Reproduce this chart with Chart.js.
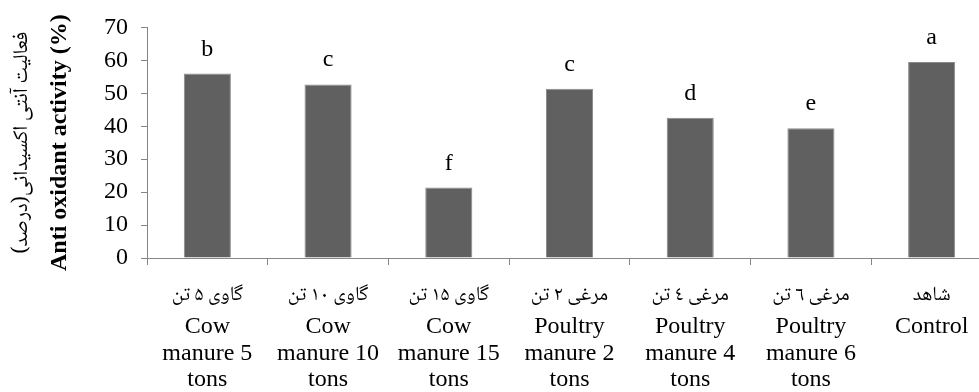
<!DOCTYPE html>
<html>
<head>
<meta charset="utf-8">
<script src="https://cdn.jsdelivr.net/npm/chart.js@4.4.1/dist/chart.umd.min.js"></script>
<style>
	body { margin: 0; overflow: hidden; background: #fff; }
	.wrap { width: 1000px; height: 392px; }
</style>
</head>
<body>
<div class="wrap"><canvas id="chart" width="1000" height="392"></canvas></div>
<script>
const categoriesFa = ['گاوی ۵ تن', 'گاوی ۱۰ تن', 'گاوی ۱۵ تن', 'مرغی ۲ تن', 'مرغی ٤ تن', 'مرغی ٦ تن', 'شاهد'];
const categoriesEn = [
	['Cow', 'manure 5', 'tons'],
	['Cow', 'manure 10', 'tons'],
	['Cow', 'manure 15', 'tons'],
	['Poultry', 'manure 2', 'tons'],
	['Poultry', 'manure 4', 'tons'],
	['Poultry', 'manure 6', 'tons'],
	['Control'],
];
const activity = [56, 52.7, 21.4, 51.4, 42.6, 39.4, 59.5];
const groupLetters = ['b', 'c', 'f', 'c', 'd', 'e', 'a'];
const yMin = 0;
const yMax = 70;
const yStep = 10;
const titleFa = 'فعالیت آنتی اکسیدانی(درصد)';
const titleEn = 'Anti oxidant activity (%)';

const serif = '"Liberation Serif", "Times New Roman", serif';
const persian = '"Noto Naskh Arabic", "Noto Sans Arabic", "DejaVu Sans", sans-serif';
const axisGray = '#868686';

// letters over bars, persian names under the axis, two-font y title
const extraText = {
	id: 'extraText',
	afterDraw(chart) {
		const ctx = chart.ctx;
		const xs = chart.scales.x;
		const ys = chart.scales.y;
		ctx.save();
		ctx.fillStyle = '#000';
		ctx.textAlign = 'center';

		ctx.font = '24px ' + serif;
		ctx.textBaseline = 'alphabetic';
		chart.getDatasetMeta(0).data.forEach((bar, i) => {
			ctx.fillText(groupLetters[i], bar.x, bar.y - 18);
		});

		ctx.direction = 'rtl';
		ctx.font = '20px ' + persian;
		ctx.textBaseline = 'middle';
		categoriesFa.forEach((name, i) => {
			ctx.fillText(name, xs.getPixelForValue(i), xs.top + 39);
		});

		const midY = (ys.top + ys.bottom) / 2;
		ctx.save();
		ctx.translate(24, midY);
		ctx.rotate(-Math.PI / 2);
		ctx.font = '21px ' + persian;
		ctx.fillText(titleFa, 0, 0);
		ctx.restore();

		ctx.direction = 'ltr';
		ctx.font = 'bold 24px ' + serif;
		ctx.translate(60, midY);
		ctx.rotate(-Math.PI / 2);
		ctx.fillText(titleEn, 0, 0);
		ctx.restore();
	},
};

new Chart(document.getElementById('chart'), {
	type: 'bar',
	data: {
		labels: categoriesEn,
		datasets: [
			{
				data: activity,
				backgroundColor: '#606060',
				borderColor: '#8a8a8a',
				borderWidth: 1,
				barPercentage: 0.39,
				categoryPercentage: 1,
			},
		],
	},
	options: {
		responsive: false,
		animation: false,
		// canvas is wider than the window: the source picture cuts the plot off on the right
		layout: { padding: { top: 25, right: 8, left: 0, bottom: 0 } },
		plugins: {
			legend: { display: false },
			tooltip: { enabled: false },
		},
		scales: {
			x: {
				afterFit: scale => {
					scale.height = 134;
					scale.paddingLeft = 0;
					scale.paddingRight = 0;
				},
				grid: { drawOnChartArea: false, color: axisGray, tickLength: 7 },
				border: { color: axisGray },
				ticks: {
					color: '#000',
					padding: 49,
					maxRotation: 0,
					autoSkip: false,
					font: { family: serif, size: 24, lineHeight: 1.1 },
				},
			},
			y: {
				min: yMin,
				max: yMax,
				afterFit: scale => { scale.width = 147; },
				grid: { drawOnChartArea: false, color: axisGray, tickLength: 6 },
				border: { color: axisGray },
				ticks: {
					stepSize: yStep,
					color: '#000',
					padding: 13,
					font: { family: serif, size: 24 },
				},
			},
		},
	},
	plugins: [extraText],
});
</script>
</body>
</html>
